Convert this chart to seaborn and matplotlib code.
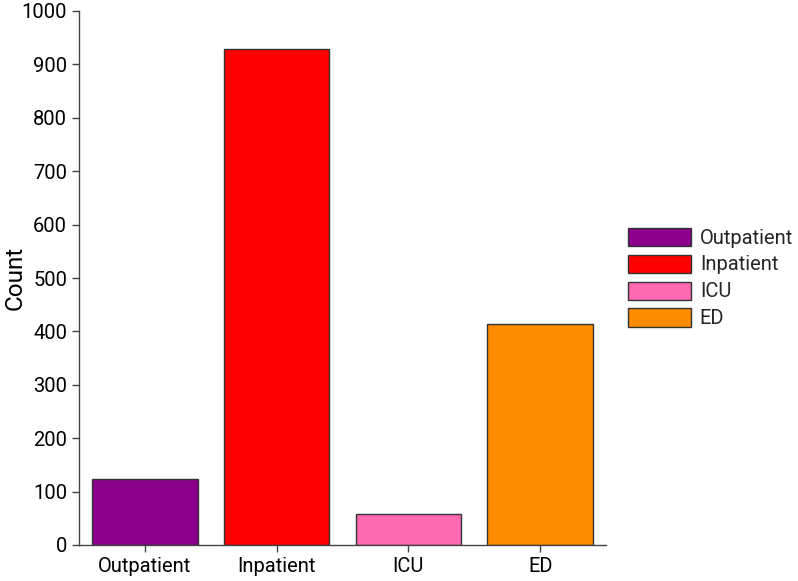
import matplotlib
matplotlib.use("Agg")
import matplotlib.pyplot as plt
import seaborn as sns
import pandas as pd

# Chart data
categories = ["Outpatient", "Inpatient", "ICU", "ED"]
counts     = [123, 928, 58, 414]
colors     = ["#8B008B", "#FF0000", "#FF69B4", "#FF8C00"]

df = pd.DataFrame({"setting": categories, "count": counts})

sns.set_theme(style="ticks")
plt.rcParams["font.family"] = ["Roboto", "DejaVu Sans"]

fig = plt.figure(figsize=(7.98, 5.81), dpi=100)
ax = fig.add_axes([79 / 798, 36 / 581, 527 / 798, 534 / 581])

sns.barplot(data=df, x="setting", y="count", hue="setting",
            palette=dict(zip(categories, colors)), order=categories,
            hue_order=categories, width=0.8, saturation=1,
            edgecolor="#333333", linewidth=1.0, legend=True, ax=ax)

ax.set_ylim(0, 1000)
ax.set_xlim(-0.5, 3.5)
ax.set_yticks(range(0, 1001, 100))
ax.set_xlabel("")
ax.set_ylabel("Count", fontsize=17.5, color="black")
ax.yaxis.set_label_coords(-0.1, 0.5)
ax.tick_params(axis="both", labelsize=14.5, colors="#444444",
               labelcolor="black", length=5, width=1)
for side in ["top", "right"]:
    ax.spines[side].set_visible(False)
for side in ["left", "bottom"]:
    ax.spines[side].set_color("#444444")
    ax.spines[side].set_linewidth(1)

leg = ax.legend(loc="center left", bbox_to_anchor=(1.027, 0.5),
                borderaxespad=0, frameon=False, fontsize=14.5,
                handlelength=3.1, handleheight=1.0, labelspacing=0.35,
                handletextpad=0.45)

fig.savefig("out.png", dpi=100)
